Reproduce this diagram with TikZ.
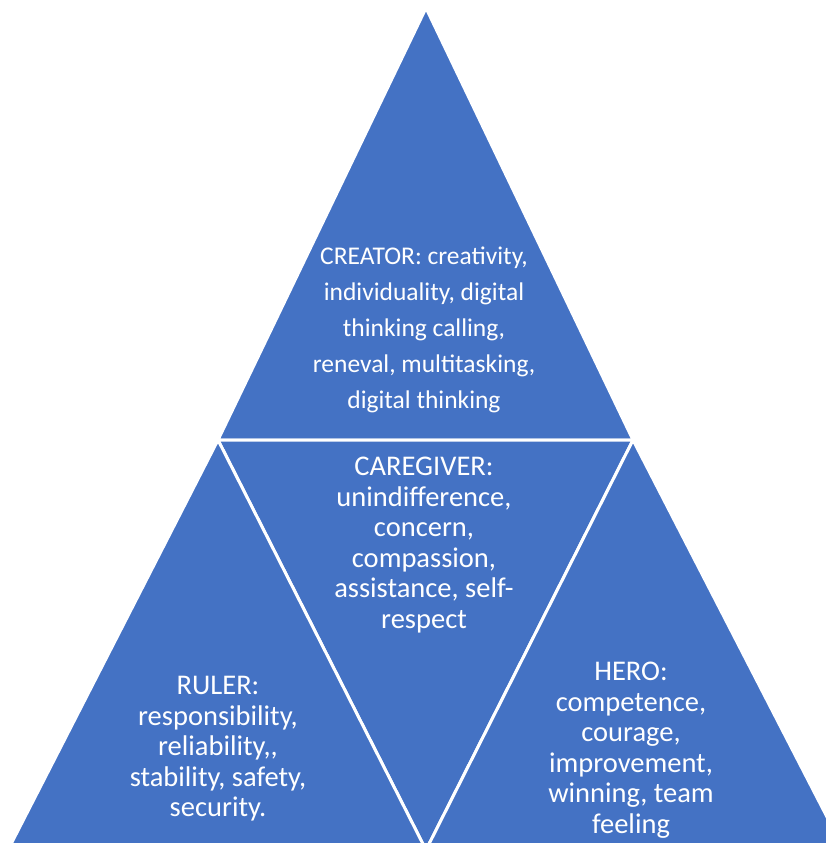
\documentclass[tikz,border=0pt]{standalone}
\usepackage{fontspec}
\setmainfont{Carlito}
\definecolor{pyrblue}{HTML}{4472C4}
\begin{document}
\begin{tikzpicture}[
  x=1pt, y=-1pt,
  piece/.style={fill=pyrblue, draw=white, line width=3pt, line join=miter},
  pyrtext/.style={text=white, align=center, font=\fontsize{28.5}{30.5}\selectfont}
  ]
  \useasboundingbox (0,0) rectangle (826,843);
  \clip (0,0) rectangle (826,843);

  \coordinate (apex) at (426,8);
  \coordinate (midL) at (218,440);
  \coordinate (midR) at (633,440);
  \coordinate (baseL) at (8,850);
  \coordinate (baseM) at (426,850);
  \coordinate (baseR) at (844,850);

  \draw[piece] (apex) -- (midL) -- (midR) -- cycle;
  \draw[piece] (midL) -- (midR) -- (baseM) -- cycle;
  \draw[piece] (midL) -- (baseL) -- (baseM) -- cycle;
  \draw[piece] (midR) -- (baseM) -- (baseR) -- cycle;

  \node[pyrtext, font=\fontsize{25.5}{36}\selectfont] (creator) at (424,330)
    {CREATOR: creativity,\\individuality, digital\\thinking calling,\\reneval, multitasking,\\digital thinking};
  \node[pyrtext] (caregiver) at (424,545)
    {CAREGIVER:\\unindifference,\\concern,\\compassion,\\assistance, self-\\respect};
  \node[pyrtext] (ruler) at (218,749)
    {RULER:\\responsibility,\\reliability,{},\\stability, safety,\\security.};
  \node[pyrtext] (hero) at (631,750)
    {HERO:\\competence,\\courage,\\improvement,\\winning, team\\feeling};
\end{tikzpicture}
\end{document}
